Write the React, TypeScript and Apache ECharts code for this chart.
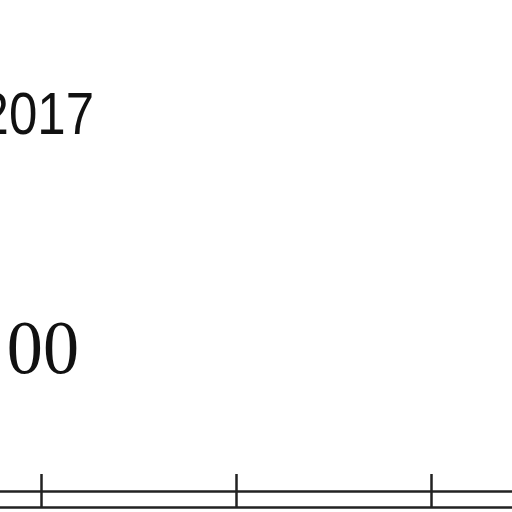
import React, { useEffect, useRef } from "react";
import * as echarts from "echarts";

const tickValues = [0, 1, 2];
const axisMin = -0.2128;
const axisMax = 2.4128;
const yearLabel = "2017";
const valueLabel = "00";

export default function App() {
  const ref = useRef<HTMLDivElement>(null);
  useEffect(() => {
    document.body.style.margin = "0";
    const chart = echarts.init(ref.current!, null, { renderer: "svg" });
    const axisBase = {
      type: "value",
      min: axisMin,
      max: axisMax,
      position: "bottom",
      axisLabel: { show: false },
      splitLine: { show: false },
    };
    chart.setOption({
      animation: false,
      backgroundColor: "#ffffff",
      grid: { left: 0, right: 0, top: 0, bottom: 21 },
      xAxis: [
        {
          ...axisBase,
          axisLine: { show: true, lineStyle: { color: "#222", width: 2.5 } },
          axisTick: {
            show: true,
            inside: true,
            length: 17,
            customValues: tickValues,
            lineStyle: { color: "#222", width: 2.5 },
          },
        },
        {
          ...axisBase,
          offset: 16,
          axisLine: { show: true, lineStyle: { color: "#222", width: 2.5 } },
          axisTick: {
            show: true,
            inside: true,
            length: 16,
            customValues: tickValues,
            lineStyle: { color: "#222", width: 2.5 },
          },
        },
      ],
      yAxis: { type: "value", show: false, min: 0, max: 1 },
      series: [{ type: "line", data: [], xAxisIndex: 0 }],
      graphic: [
        {
          type: "text",
          x: 94,
          y: 114,
          scaleX: 0.85,
          style: {
            text: yearLabel,
            font: "60px 'Liberation Sans', Arial, sans-serif",
            fill: "#111",
            align: "right",
            verticalAlign: "middle",
          },
        },
        {
          type: "text",
          x: 79,
          y: 347,
          scaleX: 0.95,
          style: {
            text: valueLabel,
            font: "76px 'Liberation Serif', 'Times New Roman', serif",
            fill: "#111",
            align: "right",
            verticalAlign: "middle",
          },
        },
      ],
    });
    return () => chart.dispose();
  }, []);
  return <div ref={ref} style={{ position: "fixed", left: 0, top: 0, width: 512, height: 512 }} />;
}
